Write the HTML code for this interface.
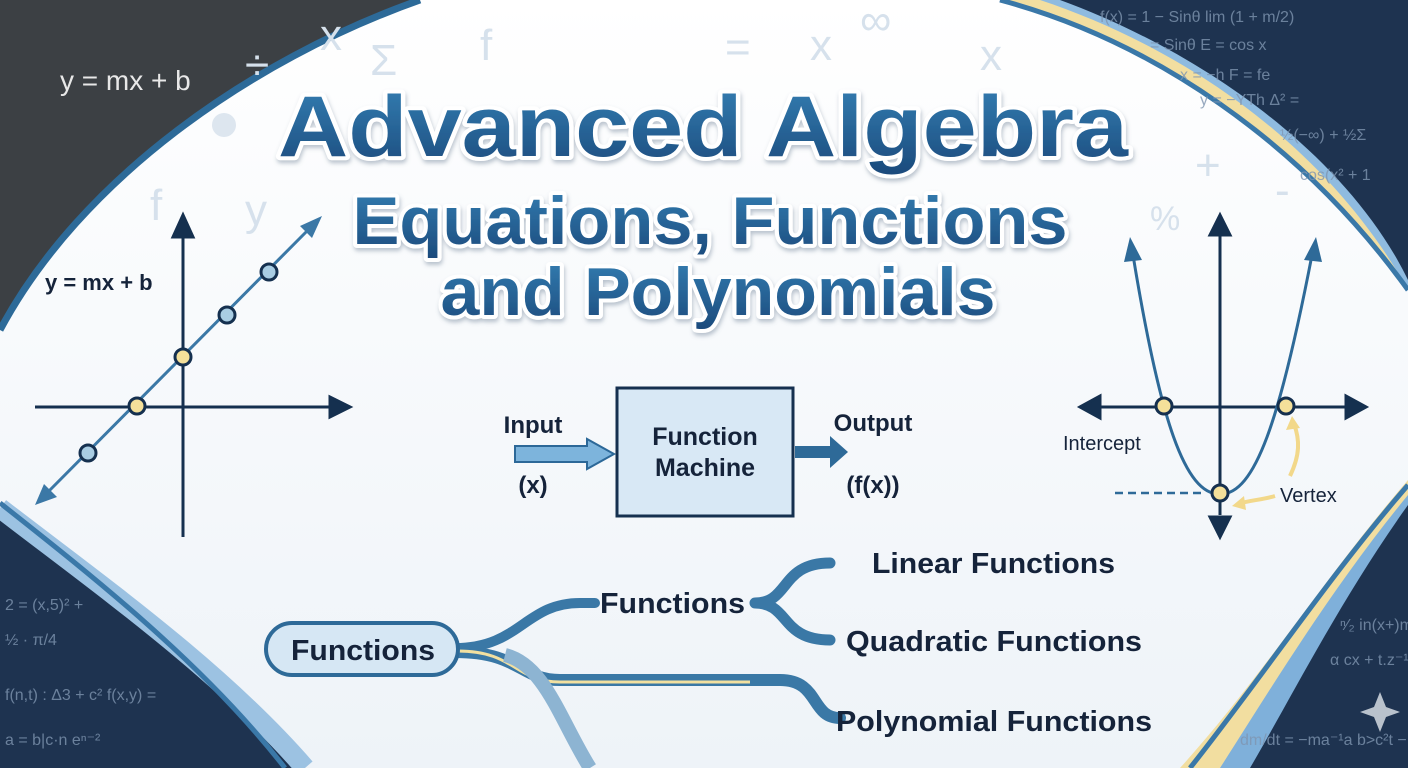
<!DOCTYPE html>
<html><head><meta charset="utf-8"><style>
html,body{margin:0;padding:0;width:1408px;height:768px;overflow:hidden;background:#1e3350}
svg{display:block}
text{font-family:"Liberation Sans",sans-serif}
</style></head><body>
<svg width="1408" height="768" viewBox="0 0 1408 768" xmlns="http://www.w3.org/2000/svg">
<defs>
<linearGradient id="tg" x1="0" y1="0" x2="0" y2="1">
<stop offset="0" stop-color="#3580b4"/><stop offset="1" stop-color="#1b4a7c"/></linearGradient>
<linearGradient id="wg" x1="0" y1="0" x2="0" y2="1">
<stop offset="0" stop-color="#ffffff"/><stop offset="1" stop-color="#eef3f8"/></linearGradient>
<filter id="sh" x="-5%" y="-10%" width="110%" height="130%"><feDropShadow dx="1" dy="3" stdDeviation="2" flood-color="#6b7f94" flood-opacity="0.45"/></filter>
</defs>
<rect width="1408" height="768" fill="#1e3350"/>
<path d="M0 0 L420 0 C250 60 80 180 0 330 Z" fill="#3c4044"/>
<text x="60" y="90" font-size="28" fill="#e8e8e8">y = mx + b</text>
<path d="M1000 0 C1150 40 1300 140 1408 300 L1408 0 Z" fill="#f2dea0"/>
<path d="M1040 0 C1190 50 1330 150 1408 290 L1408 0 Z" fill="#8fbbe0"/>
<path d="M1060 0 C1210 55 1350 160 1408 280 L1408 0 Z" fill="#1e3350"/>
<path d="M1408 470 C1320 560 1250 680 1170 768 L1408 768 Z" fill="#f2dea0"/>
<path d="M1408 495 C1330 590 1270 690 1220 768 L1408 768 Z" fill="#7fb0da"/>
<path d="M1408 505 C1340 600 1290 700 1250 768 L1408 768 Z" fill="#1e3350"/>
<path d="M420 0 L1000 0 C1150 40 1300 140 1408 290 L1408 480 C1330 570 1260 680 1180 768 L300 768 C220 680 100 590 0 515 L0 330 C80 180 250 60 420 0 Z" fill="url(#wg)"/>
<path d="M420 0 C250 60 80 180 0 330" fill="none" stroke="#2d6a98" stroke-width="7"/>
<path d="M0 508 C100 585 220 670 305 768" fill="none" stroke="#9cc2e2" stroke-width="20"/>
<path d="M0 503 C95 578 205 665 285 768" fill="none" stroke="#3a78a8" stroke-width="5"/>
<path d="M1408 290 C1300 140 1150 40 1000 0" fill="none" stroke="#3a78a8" stroke-width="5"/>
<path d="M1408 485 C1330 575 1260 680 1190 768" fill="none" stroke="#3a78a8" stroke-width="5"/>
<g fill="#d6e1ec" font-size="44">
<text x="245" y="80">÷</text><text x="320" y="50">x</text><text x="370" y="75">Σ</text><text x="480" y="60">f</text>
<text x="725" y="62">=</text><text x="810" y="60">x</text><text x="860" y="35">∞</text><text x="980" y="70">x</text>
<text x="150" y="220">f</text><text x="245" y="225">y</text><text x="1195" y="180">+</text><text x="1275" y="205">-</text><text x="1150" y="230" font-size="34">%</text>
</g>
<circle cx="224" cy="125" r="12" fill="#dde6ef"/>
<g font-weight="bold" fill="url(#tg)" stroke="#ffffff" stroke-width="8" paint-order="stroke" text-anchor="middle" stroke-linejoin="round" filter="url(#sh)">
<text x="703" y="156" font-size="86" textLength="850" lengthAdjust="spacingAndGlyphs">Advanced Algebra</text>
<text x="710" y="244" font-size="68" textLength="715" lengthAdjust="spacingAndGlyphs">Equations, Functions</text>
<text x="718" y="315" font-size="68" textLength="555" lengthAdjust="spacingAndGlyphs">and Polynomials</text>
</g>
<g stroke="#15304f" stroke-width="3" fill="#15304f">
<line x1="35" y1="407" x2="335" y2="407"/><polygon points="350,407 330,397 330,417"/>
<line x1="183" y1="537" x2="183" y2="230"/><polygon points="183,215 173,237 193,237"/>
</g>
<line x1="45" y1="495" x2="310" y2="228" stroke="#3b78a6" stroke-width="3"/>
<polygon points="322,216 300,226 312,238" fill="#3b78a6"/>
<polygon points="35,505 57,497 44,484" fill="#3b78a6"/>
<g stroke="#15304f" stroke-width="3">
<circle cx="88" cy="453" r="8" fill="#a9cde3"/><circle cx="137" cy="406" r="8" fill="#f4e09a"/>
<circle cx="183" cy="357" r="8" fill="#f4e09a"/><circle cx="227" cy="315" r="8" fill="#a9cde3"/><circle cx="269" cy="272" r="8" fill="#a9cde3"/>
</g>
<text x="45" y="290" font-size="22" font-weight="bold" fill="#15233a">y = mx + b</text>
<text x="533" y="433" font-size="24" font-weight="bold" fill="#15233a" text-anchor="middle">Input</text>
<text x="533" y="493" font-size="24" font-weight="bold" fill="#15233a" text-anchor="middle">(x)</text>
<polygon points="515,446 587,446 587,439 614,454 587,469 587,462 515,462" fill="#7db4dc" stroke="#2c6898" stroke-width="2"/>
<rect x="617" y="388" width="176" height="128" fill="#d8e8f5" stroke="#15304f" stroke-width="3"/>
<text x="705" y="445" font-size="25" font-weight="bold" fill="#15233a" text-anchor="middle">Function</text>
<text x="705" y="476" font-size="25" font-weight="bold" fill="#15233a" text-anchor="middle">Machine</text>
<polygon points="795,446 830,446 830,436 848,452 830,468 830,458 795,458" fill="#2e6a98"/>
<text x="873" y="431" font-size="24" font-weight="bold" fill="#15233a" text-anchor="middle">Output</text>
<text x="873" y="493" font-size="24" font-weight="bold" fill="#15233a" text-anchor="middle">(f(x))</text>
<g stroke="#15304f" stroke-width="3" fill="#15304f">
<line x1="1095" y1="407" x2="1350" y2="407"/><polygon points="1080,407 1100,396 1100,418"/><polygon points="1366,407 1346,396 1346,418"/>
<line x1="1220" y1="515" x2="1220" y2="230"/><polygon points="1220,215 1210,235 1230,235"/><polygon points="1220,537 1210,517 1230,517"/>
</g>
<path d="M1133 255 C1160 420 1185 495 1220 494 C1255 495 1280 420 1312 255" fill="none" stroke="#2e6a98" stroke-width="3"/>
<polygon points="1130,237 1124,262 1142,260" fill="#2e6a98"/><polygon points="1316,237 1304,260 1322,262" fill="#2e6a98"/>
<line x1="1115" y1="493" x2="1205" y2="493" stroke="#2e6a98" stroke-width="2.5" stroke-dasharray="8,5"/>
<path d="M1275 496 C1262 500 1250 500 1238 504" stroke="#f2d88a" stroke-width="4" fill="none"/>
<polygon points="1232,506 1244,496 1246,510" fill="#f2d88a"/>
<path d="M1290 476 C1300 455 1300 440 1294 424" stroke="#f2d88a" stroke-width="4" fill="none"/>
<polygon points="1292,416 1286,430 1300,428" fill="#f2d88a"/>
<g stroke="#15304f" stroke-width="3" fill="#f4e09a">
<circle cx="1164" cy="406" r="8"/><circle cx="1286" cy="406" r="8"/><circle cx="1220" cy="493" r="8"/></g>
<text x="1063" y="450" font-size="20" fill="#15233a">Intercept</text>
<text x="1280" y="502" font-size="20" fill="#15233a">Vertex</text>
<path d="M455 648 C520 648 525 603 580 603 L595 603" fill="none" stroke="#3a78a6" stroke-width="10" stroke-linecap="round"/>
<path d="M455 652 C520 652 520 680 560 680 L780 680 C820 680 810 718 840 718" fill="none" stroke="#3a78a6" stroke-width="12" stroke-linecap="round"/>
<path d="M458 651 C515 651 515 682 560 682 L750 682" fill="none" stroke="#f2e0a0" stroke-width="3"/>
<path d="M505 655 C545 665 560 720 590 768" fill="none" stroke="#8db4d2" stroke-width="14"/>
<path d="M755 603 C790 603 780 563 830 563 M755 603 C790 603 780 640 830 640" fill="none" stroke="#3a78a6" stroke-width="11" stroke-linecap="round"/>
<rect x="266" y="623" width="192" height="52" rx="26" fill="#d6e7f4" stroke="#2e6a98" stroke-width="4"/>
<g font-weight="bold" fill="#15233a" font-size="29" lengthAdjust="spacingAndGlyphs">
<text x="291" y="660" textLength="144" lengthAdjust="spacingAndGlyphs">Functions</text>
<text x="600" y="613" textLength="145" lengthAdjust="spacingAndGlyphs">Functions</text>
<text x="872" y="573" textLength="243" lengthAdjust="spacingAndGlyphs">Linear Functions</text>
<text x="846" y="651" textLength="296" lengthAdjust="spacingAndGlyphs">Quadratic Functions</text>
<text x="836" y="731" textLength="316" lengthAdjust="spacingAndGlyphs">Polynomial Functions</text>
</g>
<g fill="#7f95b0" font-size="16" opacity="0.8">
<text x="1100" y="22">f(x) = 1 − Sinθ  lim (1 + m/2)</text>
<text x="1150" y="50">= Sinθ   E = cos x</text>
<text x="1180" y="80">x = −h   F = fe</text>
<text x="1200" y="105">y = −YTh   Δ² =</text>
<text x="1280" y="140">½(−∞) + ½Σ</text>
<text x="1300" y="180">cos(x² + 1</text>
<text x="1340" y="630">ⁿ⁄₂ in(x+)m</text>
<text x="1330" y="665">α cx + t.z⁻¹</text>
<text x="1240" y="745">dm/dt = −ma⁻¹a b&gt;c²t − 6</text>
<text x="5" y="610">2 = (x,5)² +</text>
<text x="5" y="645">½ · π/4</text>
<text x="5" y="700">f(n,t) : Δ3 + c²  f(x,y) =</text>
<text x="5" y="745">a = b|c·n   eⁿ⁻²</text>
</g>
<polygon points="1380,692 1386,707 1400,712 1386,717 1380,732 1374,717 1360,712 1374,707" fill="#b9c2cc"/>
</svg>
</body></html>
